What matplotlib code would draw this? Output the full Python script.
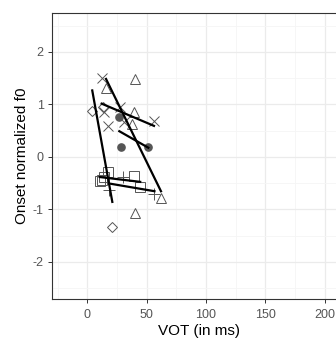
import numpy as np
import matplotlib
matplotlib.use("Agg")
import matplotlib.pyplot as plt
from matplotlib.ticker import MultipleLocator

plt.rcParams['font.family'] = ['Liberation Sans', 'DejaVu Sans']
plt.rcParams['axes.unicode_minus'] = False

# data per group (VOT in ms, onset normalized f0)
diamond_x = [4.2, 13.5, 21.1]
diamond_y = [0.88, 0.95, -1.33]
triangle_x = [15.8, 40.2, 39.3, 37.4, 62.1, 40.4]
triangle_y = [1.32, 1.48, 0.86, 0.62, -0.79, -1.08]
cross_x = [12.1, 14.5, 27.5, 31.2, 17.2, 56.2]
cross_y = [1.51, 0.86, 0.95, 0.67, 0.58, 0.68]
circle_x = [27.0, 28.4, 51.4]
circle_y = [0.76, 0.18, 0.19]
square_x = [10.5, 12.5, 14.5, 17.7, 39.3, 44.6]
square_y = [-0.46, -0.44, -0.38, -0.29, -0.37, -0.58]
plus_x = [30.3, 18.5, 56.6]
plus_y = [-0.38, -0.63, -0.71]

groups = [
    (diamond_x, diamond_y, 'D', 'none', 5.5),
    (triangle_x, triangle_y, '^', 'none', 7),
    (cross_x, cross_y, 'x', None, 7),
    (circle_x, circle_y, 'o', 'fill', 5.2),
    (square_x, square_y, 's', 'none', 6.5),
    (plus_x, plus_y, '+', None, 8),
]

W, H = 336, 340
fig = plt.figure(figsize=(W / 100, H / 100), dpi=100)
left, right, top, bottom = 52, 345, 13, 299
ax = fig.add_axes([left / W, 1 - bottom / H, (right - left) / W, (bottom - top) / H])

ax.set_xlim(-29.7, 217.1)
ax.set_ylim(-2.71, 2.74)

grey = '#555555'
for xs, ys, m, fc, ms in groups:
    if fc == 'none':
        ax.plot(xs, ys, linestyle='none', marker=m, markersize=ms,
                markerfacecolor='none', markeredgecolor=grey, markeredgewidth=0.7, zorder=3)
    elif fc == 'fill':
        ax.plot(xs, ys, linestyle='none', marker=m, markersize=ms,
                markerfacecolor=grey, markeredgecolor=grey, zorder=3)
    else:
        ax.plot(xs, ys, linestyle='none', marker=m, markersize=ms,
                color=grey, markeredgewidth=0.7, zorder=3)
    xa = np.array(xs); ya = np.array(ys)
    b, a = np.polyfit(xa, ya, 1)
    xr = np.array([xa.min(), xa.max()])
    ax.plot(xr, a + b * xr, color='black', linewidth=1.6, zorder=4)

ax.xaxis.set_major_locator(MultipleLocator(50))
ax.xaxis.set_minor_locator(MultipleLocator(25))
ax.yaxis.set_major_locator(MultipleLocator(1))
ax.yaxis.set_minor_locator(MultipleLocator(0.5))
ax.grid(which='major', color='#EBEBEB', linewidth=0.9)
ax.grid(which='minor', color='#F5F5F5', linewidth=0.6)
ax.set_axisbelow(True)
ax.set_xticks([0, 50, 100, 150, 200])
ax.set_yticks([-2, -1, 0, 1, 2])
ax.tick_params(which='major', length=3, width=0.7, color='#333333',
               labelsize=9, labelcolor=grey)
ax.tick_params(axis='x', which='major', pad=4)
ax.tick_params(axis='y', which='major', pad=3)
ax.tick_params(which='minor', length=0)
for s in ax.spines.values():
    s.set_color('#333333')
    s.set_linewidth(0.8)

ax.set_xlabel('VOT (in ms)', fontsize=11, labelpad=2)
ax.set_ylabel('Onset normalized f0', fontsize=11, labelpad=3)

fig.savefig('out.png', dpi=100)
